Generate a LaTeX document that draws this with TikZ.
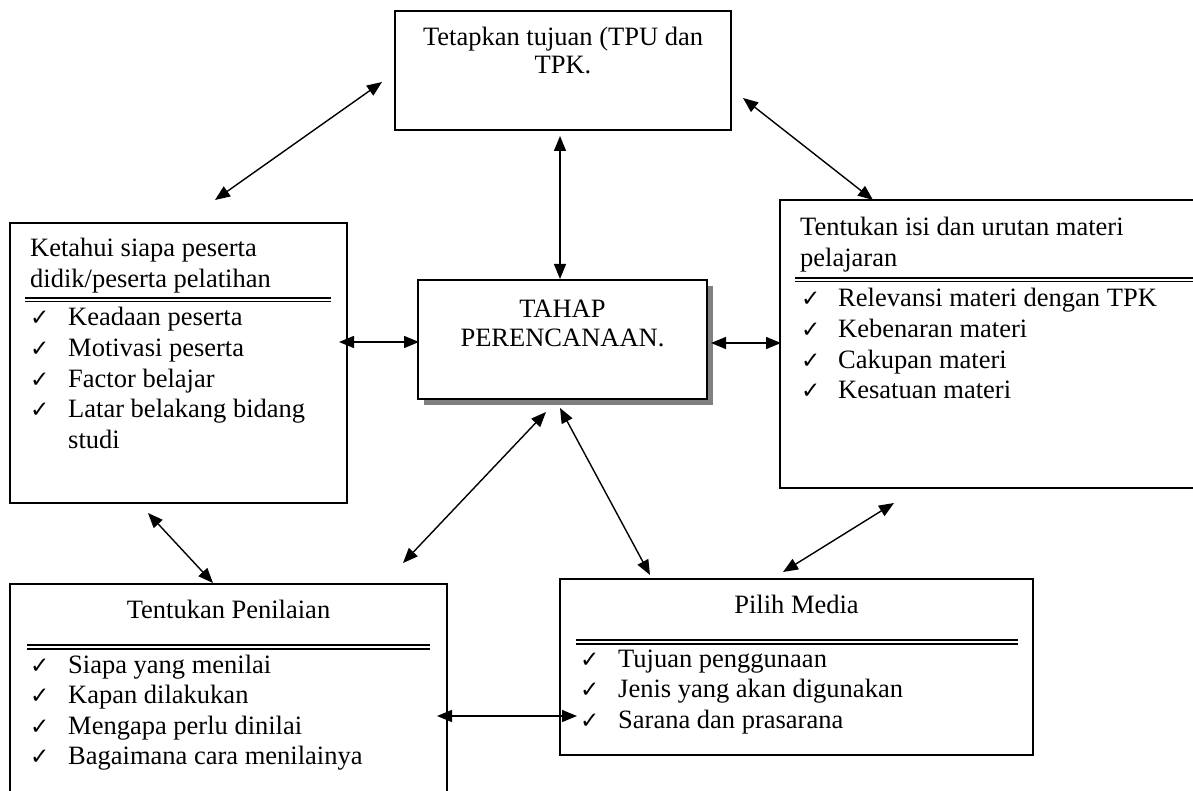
\documentclass[tikz,border=0pt]{standalone}
\usepackage{fontspec}
\setmainfont{Liberation Serif}
\newfontfamily\symf{DejaVu Sans}
\usetikzlibrary{arrows.meta}
\newcommand{\bodyfont}{\fontsize{26.5}{30.5}\selectfont}
\newcommand{\checkfont}{\symf\fontsize{23}{23}\selectfont}
\definecolor{shadowgray}{RGB}{128,128,128}
\begin{document}
\begin{tikzpicture}[x=1pt,y=-1pt,
  box/.style={draw=black, line width=1.6pt, fill=white, inner sep=0pt, outer sep=0pt, anchor=north west},
  txt/.style={font=\bodyfont, inner sep=0pt, anchor=base west},
  ctxt/.style={font=\bodyfont, inner sep=0pt, anchor=base},
  chk/.style={font=\checkfont, inner sep=0pt, anchor=base west},
  dbl/.style={line width=1.4pt},
  arr/.style={line width=1.4pt, {Triangle[length=15pt,width=12pt]}-{Triangle[length=15pt,width=12pt]}}]
\useasboundingbox (0,0) rectangle (1193,791);

% ---- top box
\node[box, minimum width=336pt, minimum height=119pt] (tujuan) at (395,11) {};
\node[ctxt] (tujuanA) at (563,46) {Tetapkan tujuan (TPU dan};
\node[ctxt] (tujuanB) at (563,74) {TPK.};

% ---- left box
\node[box, minimum width=337pt, minimum height=280pt] (peserta) at (10,223) {};
\node[txt] (pesertaA) at (30,257) {Ketahui siapa peserta};
\node[txt] (pesertaB) at (30,287.5) {didik/peserta pelatihan};
\draw[dbl] (25,298) -- (331,298);
\draw[dbl] (25,301.8) -- (331,301.8);
\node[chk] (pc1) at (30,326) {✓};
\node[txt] (pi1) at (68,326) {Keadaan peserta};
\node[chk] (pc2) at (30,356.5) {✓};
\node[txt] (pi2) at (68,356.5) {Motivasi peserta};
\node[chk] (pc3) at (30,387) {✓};
\node[txt] (pi3) at (68,387) {Factor belajar};
\node[chk] (pc4) at (30,417.5) {✓};
\node[txt] (pi4) at (68,417.5) {Latar belakang bidang};
\node[txt] (pi5) at (68,448) {studi};

% ---- centre box with shadow
\node[box, draw=none, fill=shadowgray, minimum width=289pt, minimum height=119pt] (tahapshadow) at (424,286) {};
\node[box, minimum width=289pt, minimum height=119pt] (tahap) at (418,280) {};
\node[ctxt] (tahapA) at (562.5,317) {TAHAP};
\node[ctxt] (tahapB) at (562.5,346) {PERENCANAAN.};

% ---- right box
\node[box, minimum width=420pt, minimum height=288pt] (materi) at (780,200) {};
\node[txt] (materiA) at (800,236) {Tentukan isi dan urutan materi};
\node[txt] (materiB) at (800,266.5) {pelajaran};
\draw[dbl] (795,278) -- (1200,278);
\draw[dbl] (795,281.8) -- (1200,281.8);
\node[chk] (mc1) at (801,307) {✓};
\node[txt] (mi1) at (838,307) {Relevansi materi dengan TPK};
\node[chk] (mc2) at (801,337.5) {✓};
\node[txt] (mi2) at (838,337.5) {Kebenaran materi};
\node[chk] (mc3) at (801,368) {✓};
\node[txt] (mi3) at (838,368) {Cakupan materi};
\node[chk] (mc4) at (801,398.5) {✓};
\node[txt] (mi4) at (838,398.5) {Kesatuan materi};

% ---- bottom-left box
\node[box, minimum width=437pt, minimum height=220pt] (penilaian) at (10,584) {};
\node[ctxt] (penilaianA) at (228.5,618) {Tentukan Penilaian};
\draw[dbl] (27,645) -- (430,645);
\draw[dbl] (27,648.8) -- (430,648.8);
\node[chk] (nc1) at (30,673) {✓};
\node[txt] (ni1) at (68,673) {Siapa yang menilai};
\node[chk] (nc2) at (30,703.5) {✓};
\node[txt] (ni2) at (68,703.5) {Kapan dilakukan};
\node[chk] (nc3) at (30,734) {✓};
\node[txt] (ni3) at (68,734) {Mengapa perlu dinilai};
\node[chk] (nc4) at (30,764.5) {✓};
\node[txt] (ni4) at (68,764.5) {Bagaimana cara menilainya};

% ---- bottom-right box
\node[box, minimum width=473pt, minimum height=176pt] (media) at (560,579) {};
\node[ctxt] (mediaA) at (796.5,613) {Pilih Media};
\draw[dbl] (576,640) -- (1018,640);
\draw[dbl] (576,643.8) -- (1018,643.8);
\node[chk] (dc1) at (580,667) {✓};
\node[txt] (di1) at (618,667) {Tujuan penggunaan};
\node[chk] (dc2) at (580,697.5) {✓};
\node[txt] (di2) at (618,697.5) {Jenis yang akan digunakan};
\node[chk] (dc3) at (580,728) {✓};
\node[txt] (di3) at (618,728) {Sarana dan prasarana};

% ---- connectors
\coordinate (e1a) at (382,82);   \coordinate (e1b) at (215,200);
\coordinate (e2a) at (560,136);  \coordinate (e2b) at (560,279);
\coordinate (e3a) at (743,98);   \coordinate (e3b) at (873,200);
\coordinate (e4a) at (339,342);  \coordinate (e4b) at (419,342);
\coordinate (e5a) at (711,343);  \coordinate (e5b) at (781,343);
\coordinate (e6a) at (148,513);  \coordinate (e6b) at (213,583);
\coordinate (e7a) at (546,412);  \coordinate (e7b) at (403,563);
\coordinate (e8a) at (560,408);  \coordinate (e8b) at (650,575);
\coordinate (e9a) at (894,503);  \coordinate (e9b) at (783,572);
\coordinate (e10a) at (437,716); \coordinate (e10b) at (577,716);
\draw[arr] (e1a) -- (e1b);
\draw[arr] (e2a) -- (e2b);
\draw[arr] (e3a) -- (e3b);
\draw[arr] (e4a) -- (e4b);
\draw[arr] (e5a) -- (e5b);
\draw[arr] (e6a) -- (e6b);
\draw[arr] (e7a) -- (e7b);
\draw[arr] (e8a) -- (e8b);
\draw[arr] (e9a) -- (e9b);
\draw[arr] (e10a) -- (e10b);
\end{tikzpicture}
\end{document}
